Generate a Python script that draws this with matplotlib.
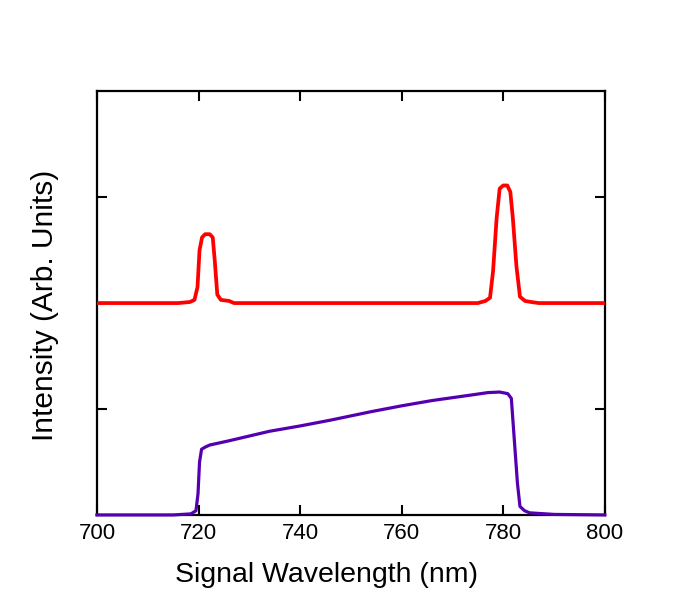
import matplotlib
matplotlib.use('Agg')
import matplotlib.pyplot as plt

# Red trace: two narrow peaks sitting on an offset baseline
RED_WL = [700, 716, 718.3, 719.2, 719.8, 720.2, 720.7, 721.3, 722.2, 722.8, 723.2, 723.7, 724.4,
          726, 727, 760, 775, 776.5, 777.4, 778.0, 778.7, 779.3, 780.0, 780.8, 781.4, 781.9,
          782.6, 783.3, 784.3, 785.5, 787, 800]
RED_I = [2.0, 2.0, 2.01, 2.03, 2.15, 2.5, 2.62, 2.65, 2.65, 2.62, 2.4, 2.08, 2.03,
         2.02, 2.0, 2.0, 2.0, 2.02, 2.05, 2.3, 2.8, 3.08, 3.11, 3.11, 3.05, 2.8,
         2.35, 2.06, 2.02, 2.01, 2.0, 2.0]

# Purple trace: broad band from ~720 to ~783 nm
PUR_WL = [700, 715, 718.5, 719.5, 719.9, 720.2, 720.6, 721.3, 722.2, 726, 730, 734, 740, 746,
          754, 760, 766, 773.4, 777, 779.3, 780.9, 781.6, 782.2, 782.8, 783.3, 784.2, 785.2,
          790, 800]
PUR_I = [0.0, 0.0, 0.01, 0.04, 0.2, 0.5, 0.62, 0.64, 0.66, 0.70, 0.745, 0.79, 0.84, 0.895,
         0.975, 1.03, 1.08, 1.13, 1.155, 1.16, 1.145, 1.1, 0.7, 0.3, 0.08, 0.04, 0.02,
         0.005, 0.0]

X_TICKS = [700, 720, 740, 760, 780, 800]

fig = plt.figure(figsize=(6.78, 5.96), dpi=100)
ax = fig.add_axes([0.143, 0.136, 0.749, 0.711])
plt.rcParams['font.family'] = ['Liberation Sans', 'DejaVu Sans']

ax.plot(PUR_WL, PUR_I, color='#5500b0', lw=2.3, zorder=3, clip_on=False)
ax.plot(RED_WL, RED_I, color='#ff0000', lw=2.7, zorder=4)

ax.set_xlim(700, 800)
ax.set_ylim(0, 4)
ax.set_xticks(X_TICKS)
ax.set_xticklabels([str(t) for t in X_TICKS], fontsize=16, family='Liberation Sans')
ax.set_yticks([1, 2, 3])
ax.set_yticklabels([])
ax.tick_params(direction='in', length=7.5, width=1.5, top=True, right=True, pad=6)
for s in ax.spines.values():
    s.set_linewidth(1.6)

ax.set_xlabel('Signal Wavelength (nm)', fontsize=20.5, family='Liberation Sans')
ax.xaxis.set_label_coords(0.453, -0.11)
ax.set_ylabel('Intensity (Arb. Units)', fontsize=21.5, family='Liberation Sans')
ax.yaxis.set_label_coords(-0.075, 0.495)

fig.savefig('out.png', dpi=100)
